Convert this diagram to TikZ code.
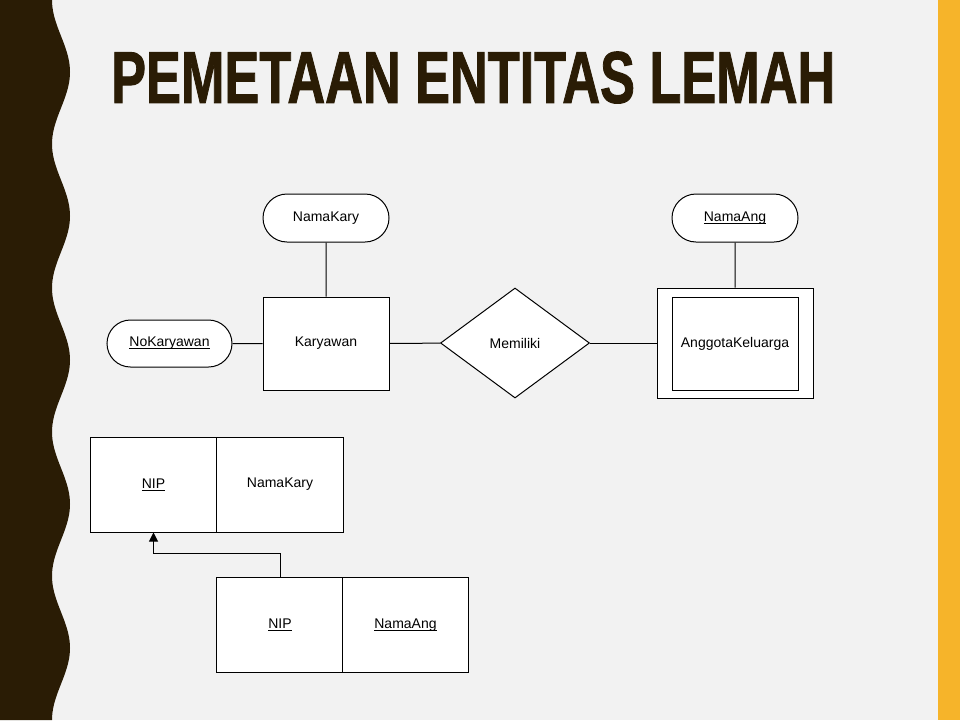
\documentclass[tikz,border=0pt]{standalone}
\usepackage{fontspec}
\setmainfont{Liberation Sans}
\newfontfamily\titlefont[FakeBold=1.5]{Liberation Sans Bold}
\usetikzlibrary{shapes.geometric,shapes.misc,arrows.meta}
\definecolor{bandbrown}{HTML}{2A1C05}
\definecolor{stripor}{HTML}{F6B42A}
\definecolor{pagebg}{HTML}{F2F2F2}
\newcommand\ulx[1]{\setbox0\hbox{#1}\rlap{\rule[-2.2pt]{\wd0}{0.9pt}}\box0}
\tikzset{
  erfont/.style={font=\fontsize{14}{16}\selectfont},
  attrib/.style={erfont, draw=black, fill=white, line width=1pt, rounded rectangle, minimum width=126pt, minimum height=48pt, inner sep=0pt},
  entity/.style={erfont, draw=black, fill=white, line width=1pt, rectangle, minimum width=126pt, minimum height=93pt, inner sep=0pt},
  relat/.style={erfont, draw=black, fill=white, line width=1pt, diamond, minimum width=149pt, minimum height=110pt, inner sep=0pt},
  cell/.style={erfont, draw=black, fill=white, line width=1pt, rectangle, minimum width=126.5pt, minimum height=95pt, inner sep=0pt},
  conn/.style={draw=black, line width=1pt},
}
\begin{document}
\begin{tikzpicture}[x=1pt,y=-1pt]
\useasboundingbox (0,0) rectangle (960,720);
\fill[pagebg] (0,0) rectangle (960,720);
\fill[stripor] (938,0) rectangle (960,720);
\fill[bandbrown] (0,0) -- plot[domain=0:720,samples=181,smooth] ({61-9*cos(2.5*\x)},\x) -- (0,720) -- cycle;
% title
\node[anchor=north west, inner sep=0pt, text=bandbrown] (title) at (111,51.5)
  {\resizebox{724pt}{51pt}{\titlefont PEMETAAN ENTITAS LEMAH}};
% ER diagram
\node[attrib] (namakary) at (326,218) {NamaKary};
\node[entity] (karyawan) at (326,343.5) {Karyawan};
\node[attrib, minimum width=125pt, minimum height=47pt] (nokary) at (169.5,343.5) {\ulx{NoKaryawan}};
\node[relat] (memiliki) at (515,343) {Memiliki};
\node[entity, minimum width=156pt, minimum height=110pt] (akout) at (735,343) {};
\node[entity] (akin) at (735,343.5) {AnggotaKeluarga};
\node[attrib] (namaang) at (735,218) {\ulx{NamaAng}};
\draw[conn] (namakary) -- (karyawan);
\draw[conn] (nokary) -- (karyawan);
\draw[conn] (karyawan) -- (memiliki);
\draw[conn] (memiliki) -- (akout);
\draw[conn] (namaang) -- (akout);
% tables
\node[cell] (t1nip) at (153.5,484.5) {\ulx{NIP}};
\node[cell] (t1nama) at (280,484.5) {NamaKary};
\node[cell] (t2nip) at (280,625) {\ulx{NIP}};
\node[cell] (t2nama) at (405.5,625) {\ulx{NamaAng}};
\coordinate (bend) at (280,553);
\draw[conn, -{Triangle[width=9pt,length=9pt]}] (t2nip.north) -- (bend) -| (t1nip.south);
\end{tikzpicture}
\end{document}
